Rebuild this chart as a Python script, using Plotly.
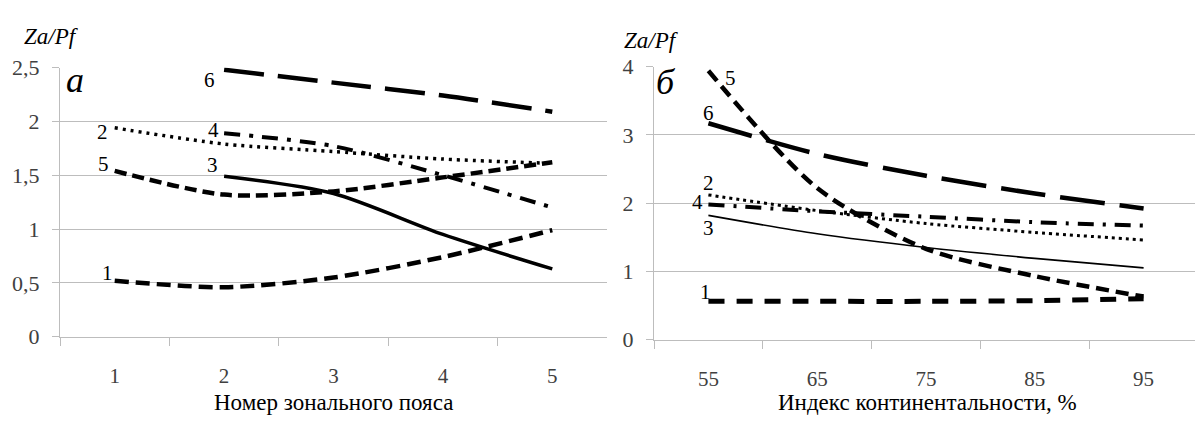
import plotly.graph_objects as go

W, H = 1195, 426

# ---- data ----
zones = ["1", "2", "3", "4", "5"]
cont = ["55", "65", "75", "85", "95"]

a1 = [0.52, 0.46, 0.55, 0.74, 0.99]
a2 = [1.94, 1.79, 1.72, 1.65, 1.61]
a3 = [None, 1.49, 1.33, 0.95, 0.63]
a4 = [None, 1.89, 1.77, 1.50, 1.20]
a5 = [1.54, 1.32, 1.35, 1.48, 1.62]
a6 = [None, 2.48, 2.36, 2.24, 2.09]

b1 = [0.56, 0.56, 0.56, 0.57, 0.60]
b2 = [2.12, 1.89, 1.70, 1.57, 1.46]
b3 = [1.82, 1.55, 1.35, 1.19, 1.05]
b4 = [1.98, 1.88, 1.80, 1.72, 1.67]
b5 = [3.94, 2.22, 1.33, 0.93, 0.63]
b6 = [3.17, 2.72, 2.40, 2.14, 1.92]

left_yticks = [0, 0.5, 1, 1.5, 2, 2.5]
left_ytext = ["0", "0,5", "1", "1,5", "2", "2,5"]
right_yticks = [0, 1, 2, 3, 4]
right_ytext = ["0", "1", "2", "3", "4"]

FONT = "Liberation Serif, Times New Roman, serif"
GRID = "#bdbdbd"
TICKC = "#404040"

fig = go.Figure()

def add(x, y, xa, ya, width, dash):
    fig.add_trace(go.Scatter(
        x=x, y=y, xaxis=xa, yaxis=ya, mode="lines",
        line=dict(color="black", width=width, dash=dash, shape="spline", smoothing=0.8),
        showlegend=False, hoverinfo="skip"))

# left panel
add(zones, a1, "x", "y", 4.5, "14px,7px")
add(zones, a2, "x", "y", 3.5, "3px,5px")
add(zones, a3, "x", "y", 3.5, "solid")
add(zones, a4, "x", "y", 4, "16px,9px,4px,9px")
add(zones, a5, "x", "y", 4.5, "12px,6px")
add(zones, a6, "x", "y", 4.5, "40px,14px")
# right panel
add(cont, b1, "x2", "y2", 5, "16px,12px")
add(cont, b2, "x2", "y2", 3, "3px,4px")
add(cont, b3, "x2", "y2", 1.6, "solid")
add(cont, b4, "x2", "y2", 4, "16px,9px,3px,9px")
add(cont, b5, "x2", "y2", 4.5, "13px,7px")
add(cont, b6, "x2", "y2", 4.5, "45px,15px")

def px(x):
    return x / W

def py(y):
    return 1 - y / H

xcommon = dict(type="category", showgrid=False, showline=True, linecolor=GRID, linewidth=1,
               ticks="outside", ticklen=8, tickcolor=GRID, tickson="boundaries",
               tickfont=dict(family=FONT, size=21, color=TICKC), ticklabelstandoff=20,
               zeroline=False, fixedrange=True)
ycommon = dict(showgrid=True, gridcolor=GRID, gridwidth=1, showline=True, linecolor=GRID,
               linewidth=1, ticks="outside", ticklen=7, tickcolor=GRID,
               tickfont=dict(family=FONT, size=22, color=TICKC), ticklabelstandoff=8,
               zeroline=False, fixedrange=True)

fig.update_layout(
    width=W, height=H, margin=dict(l=0, r=0, t=0, b=0),
    paper_bgcolor="white", plot_bgcolor="white",
    font=dict(family=FONT),
    xaxis=dict(xcommon, domain=[px(60), px(607)], range=[-0.5, 4.5], anchor="y"),
    yaxis=dict(ycommon, domain=[py(345), py(59)], range=[0, 2.5], anchor="x",
               tickvals=left_yticks, ticktext=left_ytext),
    xaxis2=dict(xcommon, domain=[px(654), 1.0], range=[-0.5, 4.5 - 3 / 108.8], anchor="y2"),
    yaxis2=dict(ycommon, domain=[py(348), py(58)], range=[0, 4], anchor="x2",
                tickvals=right_yticks, ticktext=right_ytext),
)

def ann(text, x, y, size=20, italic=False, color="black"):
    fig.add_annotation(text=text, xref="paper", yref="paper", x=px(x), y=py(y),
                       xanchor="center", yanchor="middle", showarrow=False, borderpad=0,
                       font=dict(family=FONT, size=size, color=color,
                                 style="italic" if italic else "normal"))

# axis titles
ann("Номер зонального пояса", 333, 415, size=23)
ann("Индекс континентальности, %", 927, 415, size=23)
ann("Za/Pf", 52, 26, size=23, italic=True)
ann("Za/Pf", 651, 30, size=23, italic=True)
ann("а", 75, 72, size=36, italic=True)
ann("б", 666, 74, size=36, italic=True)

# series labels
for t, x, y in [("1", 107, 277), ("2", 102, 127), ("5", 103, 162),
                ("6", 210, 72), ("4", 213, 125), ("3", 212, 163),
                ("5", 730, 70), ("6", 708, 107), ("2", 708, 182),
                ("4", 697, 202), ("3", 708, 229), ("1", 705, 297)]:
    ann(t, x, y, size=21)

fig.write_html("out.html")
